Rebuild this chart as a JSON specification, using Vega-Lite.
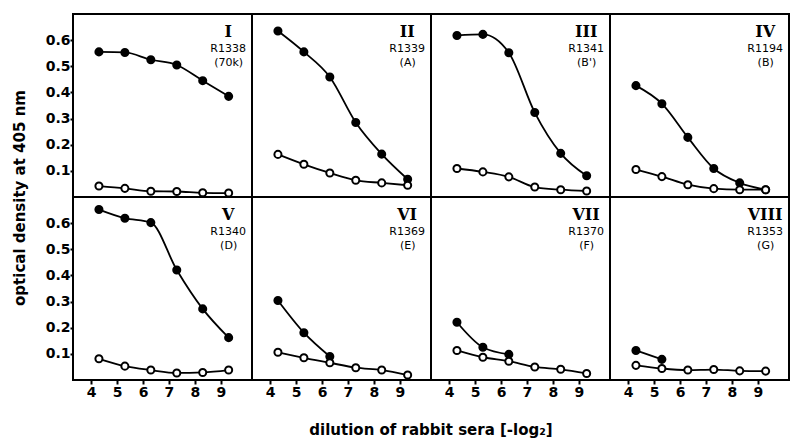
{
  "$schema": "https://vega.github.io/schema/vega-lite/v6.json",
  "padding": {"left": 12, "top": 13, "right": 1, "bottom": 2},
  "background": "white",
  "bounds": "flush",
  "data": {"values": [
    {"p": "I", "r": 1, "c": 1, "s": "label", "rom": "I", "rid": "R1338", "grp": "(70k)"},
    {"p": "II", "r": 1, "c": 2, "s": "label", "rom": "II", "rid": "R1339", "grp": "(A)"},
    {"p": "III", "r": 1, "c": 3, "s": "label", "rom": "III", "rid": "R1341", "grp": "(B')"},
    {"p": "IV", "r": 1, "c": 4, "s": "label", "rom": "IV", "rid": "R1194", "grp": "(B)"},
    {"p": "V", "r": 2, "c": 1, "s": "label", "rom": "V", "rid": "R1340", "grp": "(D)"},
    {"p": "VI", "r": 2, "c": 2, "s": "label", "rom": "VI", "rid": "R1369", "grp": "(E)"},
    {"p": "VII", "r": 2, "c": 3, "s": "label", "rom": "VII", "rid": "R1370", "grp": "(F)"},
    {"p": "VIII", "r": 2, "c": 4, "s": "label", "rom": "VIII", "rid": "R1353", "grp": "(G)"},
    {"p": "I", "r": 1, "c": 1, "s": "filled", "x": 4.3, "y": 0.555},
    {"p": "I", "r": 1, "c": 1, "s": "filled", "x": 5.3, "y": 0.553},
    {"p": "I", "r": 1, "c": 1, "s": "filled", "x": 6.3, "y": 0.525},
    {"p": "I", "r": 1, "c": 1, "s": "filled", "x": 7.3, "y": 0.505},
    {"p": "I", "r": 1, "c": 1, "s": "filled", "x": 8.3, "y": 0.445},
    {"p": "I", "r": 1, "c": 1, "s": "filled", "x": 9.3, "y": 0.385},
    {"p": "I", "r": 1, "c": 1, "s": "open", "x": 4.3, "y": 0.042},
    {"p": "I", "r": 1, "c": 1, "s": "open", "x": 5.3, "y": 0.033},
    {"p": "I", "r": 1, "c": 1, "s": "open", "x": 6.3, "y": 0.022},
    {"p": "I", "r": 1, "c": 1, "s": "open", "x": 7.3, "y": 0.021},
    {"p": "I", "r": 1, "c": 1, "s": "open", "x": 8.3, "y": 0.016},
    {"p": "I", "r": 1, "c": 1, "s": "open", "x": 9.3, "y": 0.015},
    {"p": "II", "r": 1, "c": 2, "s": "filled", "x": 4.3, "y": 0.635},
    {"p": "II", "r": 1, "c": 2, "s": "filled", "x": 5.3, "y": 0.555},
    {"p": "II", "r": 1, "c": 2, "s": "filled", "x": 6.3, "y": 0.459},
    {"p": "II", "r": 1, "c": 2, "s": "filled", "x": 7.3, "y": 0.285},
    {"p": "II", "r": 1, "c": 2, "s": "filled", "x": 8.3, "y": 0.164},
    {"p": "II", "r": 1, "c": 2, "s": "filled", "x": 9.3, "y": 0.068},
    {"p": "II", "r": 1, "c": 2, "s": "open", "x": 4.3, "y": 0.163},
    {"p": "II", "r": 1, "c": 2, "s": "open", "x": 5.3, "y": 0.125},
    {"p": "II", "r": 1, "c": 2, "s": "open", "x": 6.3, "y": 0.092},
    {"p": "II", "r": 1, "c": 2, "s": "open", "x": 7.3, "y": 0.064},
    {"p": "II", "r": 1, "c": 2, "s": "open", "x": 8.3, "y": 0.054},
    {"p": "II", "r": 1, "c": 2, "s": "open", "x": 9.3, "y": 0.045},
    {"p": "III", "r": 1, "c": 3, "s": "filled", "x": 4.3, "y": 0.618},
    {"p": "III", "r": 1, "c": 3, "s": "filled", "x": 5.3, "y": 0.622},
    {"p": "III", "r": 1, "c": 3, "s": "filled", "x": 6.3, "y": 0.552},
    {"p": "III", "r": 1, "c": 3, "s": "filled", "x": 7.3, "y": 0.323},
    {"p": "III", "r": 1, "c": 3, "s": "filled", "x": 8.3, "y": 0.167},
    {"p": "III", "r": 1, "c": 3, "s": "filled", "x": 9.3, "y": 0.081},
    {"p": "III", "r": 1, "c": 3, "s": "open", "x": 4.3, "y": 0.109},
    {"p": "III", "r": 1, "c": 3, "s": "open", "x": 5.3, "y": 0.096},
    {"p": "III", "r": 1, "c": 3, "s": "open", "x": 6.3, "y": 0.077},
    {"p": "III", "r": 1, "c": 3, "s": "open", "x": 7.3, "y": 0.038},
    {"p": "III", "r": 1, "c": 3, "s": "open", "x": 8.3, "y": 0.028},
    {"p": "III", "r": 1, "c": 3, "s": "open", "x": 9.3, "y": 0.023},
    {"p": "IV", "r": 1, "c": 4, "s": "filled", "x": 4.3, "y": 0.426},
    {"p": "IV", "r": 1, "c": 4, "s": "filled", "x": 5.3, "y": 0.357},
    {"p": "IV", "r": 1, "c": 4, "s": "filled", "x": 6.3, "y": 0.228},
    {"p": "IV", "r": 1, "c": 4, "s": "filled", "x": 7.3, "y": 0.109},
    {"p": "IV", "r": 1, "c": 4, "s": "filled", "x": 8.3, "y": 0.054},
    {"p": "IV", "r": 1, "c": 4, "s": "filled", "x": 9.3, "y": 0.028},
    {"p": "IV", "r": 1, "c": 4, "s": "open", "x": 4.3, "y": 0.105},
    {"p": "IV", "r": 1, "c": 4, "s": "open", "x": 5.3, "y": 0.078},
    {"p": "IV", "r": 1, "c": 4, "s": "open", "x": 6.3, "y": 0.047},
    {"p": "IV", "r": 1, "c": 4, "s": "open", "x": 7.3, "y": 0.032},
    {"p": "IV", "r": 1, "c": 4, "s": "open", "x": 8.3, "y": 0.028},
    {"p": "IV", "r": 1, "c": 4, "s": "open", "x": 9.3, "y": 0.028},
    {"p": "V", "r": 2, "c": 1, "s": "filled", "x": 4.3, "y": 0.652},
    {"p": "V", "r": 2, "c": 1, "s": "filled", "x": 5.3, "y": 0.619},
    {"p": "V", "r": 2, "c": 1, "s": "filled", "x": 6.3, "y": 0.602},
    {"p": "V", "r": 2, "c": 1, "s": "filled", "x": 7.3, "y": 0.421},
    {"p": "V", "r": 2, "c": 1, "s": "filled", "x": 8.3, "y": 0.272},
    {"p": "V", "r": 2, "c": 1, "s": "filled", "x": 9.3, "y": 0.162},
    {"p": "V", "r": 2, "c": 1, "s": "open", "x": 4.3, "y": 0.081},
    {"p": "V", "r": 2, "c": 1, "s": "open", "x": 5.3, "y": 0.053},
    {"p": "V", "r": 2, "c": 1, "s": "open", "x": 6.3, "y": 0.038},
    {"p": "V", "r": 2, "c": 1, "s": "open", "x": 7.3, "y": 0.027},
    {"p": "V", "r": 2, "c": 1, "s": "open", "x": 8.3, "y": 0.029},
    {"p": "V", "r": 2, "c": 1, "s": "open", "x": 9.3, "y": 0.038},
    {"p": "VI", "r": 2, "c": 2, "s": "filled", "x": 4.3, "y": 0.304},
    {"p": "VI", "r": 2, "c": 2, "s": "filled", "x": 5.3, "y": 0.181},
    {"p": "VI", "r": 2, "c": 2, "s": "filled", "x": 6.3, "y": 0.09},
    {"p": "VI", "r": 2, "c": 2, "s": "open", "x": 4.3, "y": 0.106},
    {"p": "VI", "r": 2, "c": 2, "s": "open", "x": 5.3, "y": 0.085},
    {"p": "VI", "r": 2, "c": 2, "s": "open", "x": 6.3, "y": 0.066},
    {"p": "VI", "r": 2, "c": 2, "s": "open", "x": 7.3, "y": 0.047},
    {"p": "VI", "r": 2, "c": 2, "s": "open", "x": 8.3, "y": 0.038},
    {"p": "VI", "r": 2, "c": 2, "s": "open", "x": 9.3, "y": 0.019},
    {"p": "VII", "r": 2, "c": 3, "s": "filled", "x": 4.3, "y": 0.221},
    {"p": "VII", "r": 2, "c": 3, "s": "filled", "x": 5.3, "y": 0.125},
    {"p": "VII", "r": 2, "c": 3, "s": "filled", "x": 6.3, "y": 0.098},
    {"p": "VII", "r": 2, "c": 3, "s": "open", "x": 4.3, "y": 0.113},
    {"p": "VII", "r": 2, "c": 3, "s": "open", "x": 5.3, "y": 0.087},
    {"p": "VII", "r": 2, "c": 3, "s": "open", "x": 6.3, "y": 0.072},
    {"p": "VII", "r": 2, "c": 3, "s": "open", "x": 7.3, "y": 0.05},
    {"p": "VII", "r": 2, "c": 3, "s": "open", "x": 8.3, "y": 0.041},
    {"p": "VII", "r": 2, "c": 3, "s": "open", "x": 9.3, "y": 0.025},
    {"p": "VIII", "r": 2, "c": 4, "s": "filled", "x": 4.3, "y": 0.113},
    {"p": "VIII", "r": 2, "c": 4, "s": "filled", "x": 5.3, "y": 0.079},
    {"p": "VIII", "r": 2, "c": 4, "s": "open", "x": 4.3, "y": 0.056},
    {"p": "VIII", "r": 2, "c": 4, "s": "open", "x": 5.3, "y": 0.044},
    {"p": "VIII", "r": 2, "c": 4, "s": "open", "x": 6.3, "y": 0.038},
    {"p": "VIII", "r": 2, "c": 4, "s": "open", "x": 7.3, "y": 0.04},
    {"p": "VIII", "r": 2, "c": 4, "s": "open", "x": 8.3, "y": 0.035},
    {"p": "VIII", "r": 2, "c": 4, "s": "open", "x": 9.3, "y": 0.034}
  ]},
  "facet": {
    "row": {"field": "r", "type": "ordinal", "title": "optical density at 405 nm",
      "header": {"labels": false, "titleOrient": "left", "titleAngle": -90, "titlePadding": -8,
        "titleFont": "DejaVu Sans", "titleFontWeight": "bold", "titleFontSize": 15, "titleColor": "black"}},
    "column": {"field": "c", "type": "ordinal", "title": "dilution of rabbit sera [-log₂]",
      "header": {"labels": false, "titleOrient": "bottom", "titlePadding": 14,
        "titleFont": "DejaVu Sans", "titleFontWeight": "bold", "titleFontSize": 15, "titleColor": "black"}}
  },
  "spacing": 0,
  "spec": {
    "width": 179,
    "height": 183,
    "layer": [
      {"transform": [{"filter": "datum.s != 'label'"}],
       "mark": {"type": "line", "interpolate": "monotone", "color": "black", "strokeWidth": 1.8},
       "encoding": {
         "x": {"field": "x", "type": "quantitative",
           "scale": {"domain": [3.3, 10.2], "nice": false, "zero": false},
           "axis": {"title": null, "values": [4, 5, 6, 7, 8, 9], "tickCount": 6, "format": "d", "labelOverlap": false, "labelPadding": 1}},
         "y": {"field": "y", "type": "quantitative",
           "scale": {"domain": [0, 0.7], "nice": false},
           "axis": {"title": null, "values": [0.1, 0.2, 0.3, 0.4, 0.5, 0.6], "tickCount": 6, "format": ".1f", "labelOverlap": false, "labelPadding": 0, "tickSize": 3}},
         "detail": {"field": "s"}}},
      {"transform": [{"filter": "datum.s != 'label'"}],
       "mark": {"type": "point", "shape": "circle", "opacity": 1, "stroke": "black", "strokeWidth": 2, "size": 50},
       "encoding": {
         "x": {"field": "x", "type": "quantitative"},
         "y": {"field": "y", "type": "quantitative"},
         "fill": {"field": "s", "type": "nominal", "scale": {"domain": ["filled", "open"], "range": ["black", "white"]}, "legend": null}}},
      {"transform": [{"filter": "datum.s == 'label'"}],
       "mark": {"type": "text", "font": "DejaVu Serif", "fontWeight": "bold", "fontSize": 16, "align": "center", "baseline": "middle", "color": "black"},
       "encoding": {"x": {"datum": 9.28}, "y": {"datum": 0.632}, "text": {"field": "rom"}}},
      {"transform": [{"filter": "datum.s == 'label'"}],
       "mark": {"type": "text", "font": "DejaVu Sans", "fontSize": 11, "align": "center", "baseline": "middle", "color": "black"},
       "encoding": {"x": {"datum": 9.28}, "y": {"datum": 0.567}, "text": {"field": "rid"}}},
      {"transform": [{"filter": "datum.s == 'label'"}],
       "mark": {"type": "text", "font": "DejaVu Sans", "fontSize": 11, "align": "center", "baseline": "middle", "color": "black"},
       "encoding": {"x": {"datum": 9.3}, "y": {"datum": 0.513}, "text": {"field": "grp"}}}
    ]
  },
  "config": {
    "view": {"stroke": "black", "strokeWidth": 2},
    "axis": {
      "grid": false, "domain": false, "labelOverlap": false, "tickCount": 6,
      "tickColor": "black", "tickWidth": 2, "tickSize": 4,
      "labelFont": "DejaVu Sans", "labelFontWeight": "bold", "labelFontSize": 14, "labelColor": "black"
    }
  }
}
